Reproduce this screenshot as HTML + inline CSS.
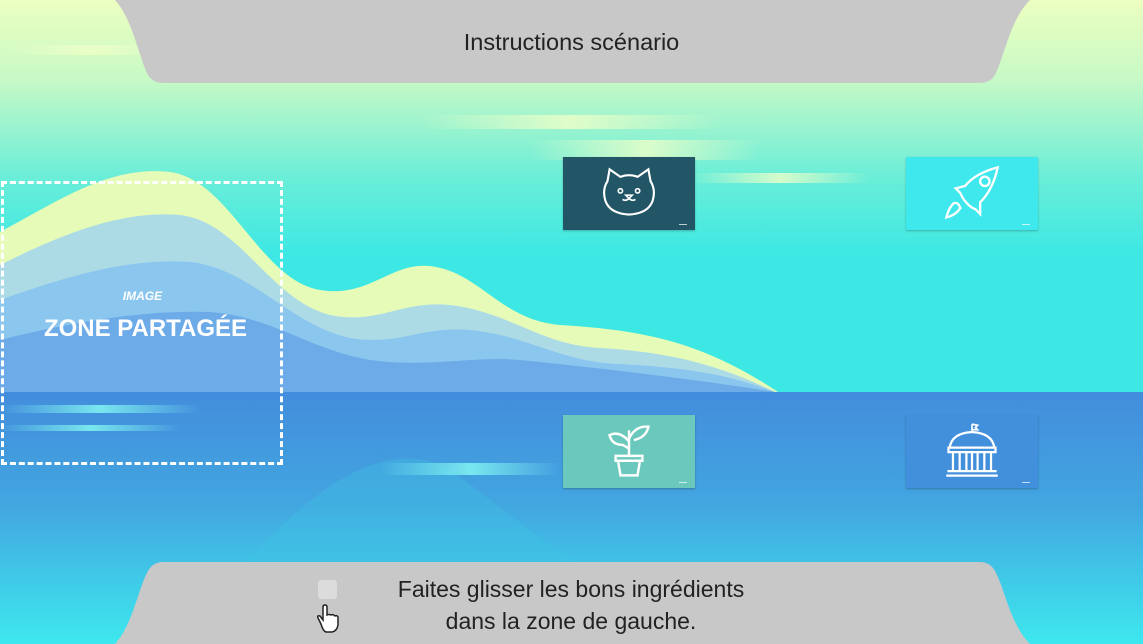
<!DOCTYPE html>
<html><head><meta charset="utf-8"><style>
body{margin:0;width:1143px;height:644px;overflow:hidden;font-family:"Liberation Sans",sans-serif;position:relative;background:#3de8e6}
.abs{position:absolute}
.card{position:absolute;width:132px;height:73px;box-shadow:0 1px 2px rgba(0,0,0,.25)}
.card svg{position:absolute;left:38px;top:8px}
.card .tiny{position:absolute;right:8px;bottom:5px;width:8px;height:1px;background:rgba(255,255,255,.7)}
</style></head><body>
<svg class="abs" width="1143" height="644" style="left:0;top:0">
<defs>
<linearGradient id="sky" x1="0" y1="0" x2="0" y2="1"><stop offset="0" stop-color="#ecffc0"/><stop offset="0.2" stop-color="#c8f9c6"/><stop offset="0.45" stop-color="#6beed8"/><stop offset="0.65" stop-color="#3de8e4"/><stop offset="1" stop-color="#3de8e4"/></linearGradient>
<linearGradient id="sea" x1="0" y1="0" x2="0" y2="1"><stop offset="0" stop-color="#438ddc"/><stop offset="0.45" stop-color="#42a6e0"/><stop offset="1" stop-color="#3de8ee"/></linearGradient>
<linearGradient id="streak" x1="0" x2="1"><stop offset="0" stop-color="#f0ffc8" stop-opacity="0"/><stop offset=".5" stop-color="#f0ffc8" stop-opacity=".8"/><stop offset="1" stop-color="#f0ffc8" stop-opacity="0"/></linearGradient>
<linearGradient id="streak2" x1="0" x2="1"><stop offset="0" stop-color="#7ff0f0" stop-opacity="0"/><stop offset=".5" stop-color="#7ff0f0" stop-opacity=".9"/><stop offset="1" stop-color="#7ff0f0" stop-opacity="0"/></linearGradient>
</defs>
<rect width="1143" height="392" fill="url(#sky)"/>
<rect y="392" width="1143" height="252" fill="url(#sea)"/>
<path d="M230 580 C300 500 380 430 450 470 C520 520 560 560 620 580 Z" fill="#3fc8e6" opacity=".3"/>
<rect x="420" y="115" width="300" height="14" fill="url(#streak)"/>
<rect x="530" y="140" width="230" height="20" fill="url(#streak)"/>
<rect x="690" y="173" width="180" height="10" fill="url(#streak)"/>
<rect x="10" y="45" width="160" height="10" fill="url(#streak)"/>
<rect x="380" y="463" width="180" height="12" fill="url(#streak2)"/>
<rect x="0" y="405" width="200" height="8" fill="url(#streak2)"/>
<rect x="0" y="425" width="180" height="6" fill="url(#streak2)"/>
<path d="M0 232 C60 200 110 165 170 172 C230 180 260 280 320 290 C370 298 390 262 430 266 C480 272 500 320 560 325 C640 330 700 340 778 392 L0 392Z" fill="#e6fbb8"/>
<path d="M0 265 C60 235 120 210 180 215 C240 222 270 300 330 315 C380 325 400 300 450 305 C510 312 540 345 600 348 C670 352 720 365 775 392 L0 392Z" fill="#acdbe6"/>
<path d="M0 300 C70 275 130 258 190 262 C250 268 290 325 350 338 C400 346 420 326 470 330 C530 336 560 362 620 364 C690 368 730 375 775 392 L0 392Z" fill="#8ac6ee"/>
<path d="M0 340 C80 320 150 310 210 312 C270 316 310 350 370 360 C430 368 470 356 520 360 C600 368 700 380 775 392 L0 392Z" fill="#6caae8"/>
</svg>
<svg class="abs" width="1143" height="90" style="left:0;top:0">
<path d="M115 0 L1030 0 C1010 20 1005 55 995 75 Q990 83 980 83 L163 83 Q153 83 148 75 C138 55 133 20 115 0Z" fill="#c8c8c8"/>
</svg>
<div class="abs" style="left:0;width:1143px;top:29px;text-align:center;font-size:23.5px;color:#222">Instructions scénario</div>
<svg class="abs" width="1143" height="84" style="left:0;top:560px">
<path d="M115 84 L1030 84 C1010 64 1005 29 995 11 Q990 2 980 2 L163 2 Q153 2 148 11 C138 29 133 64 115 84Z" fill="#c8c8c8"/>
</svg>
<div class="abs" style="left:340px;width:462px;top:573px;text-align:center;font-size:23px;line-height:32px;color:#222">Faites glisser les bons ingrédients<br>dans la zone de gauche.</div>
<div class="abs" style="left:318px;top:580px;width:19px;height:19px;border-radius:3px;background:#dcdcdc"></div>
<svg class="abs" width="28" height="30" style="left:313px;top:604px"><path d="M8 20 L5 14 Q4 11 7 12 L10 16 L10 3 Q10 1 12 1 Q14 1 14 3 L14 11 Q16 10 18 11 Q20 10 22 12 Q24 11 25 13 L25 21 Q24 27 19 28 L13 28 Q10 27 8 20Z" fill="#fff" stroke="#222" stroke-width="1.5"/></svg>
<div class="abs" style="left:1px;top:181px;width:276px;height:278px;border:3px dashed #fff"></div>
<div class="abs" style="left:0;width:285px;top:289px;text-align:center;font-size:12px;font-style:italic;font-weight:bold;color:#fff">IMAGE</div>
<div class="abs" style="left:0;width:291px;top:315px;text-align:center;font-size:24px;font-weight:bold;color:#fff">ZONE PARTAGÉE</div>
<div class="card" style="left:563px;top:157px;background:#225565">
<svg width="56" height="56" viewBox="4 2 52 46"><path d="M10 14 L12 3 L22 10 Q30 7 38 10 L48 3 L50 14 Q55 22 52 32 Q48 44 30 45 Q12 44 8 32 Q5 22 10 14Z" fill="none" stroke="#fff" stroke-width="2"/><circle cx="22" cy="23" r="2" fill="none" stroke="#fff" stroke-width="1.5"/><circle cx="38" cy="23" r="2" fill="none" stroke="#fff" stroke-width="1.5"/><path d="M27 27 L33 27 L30 30Z M30 30 Q27 33 24 31 M30 30 Q33 33 36 31" fill="none" stroke="#fff" stroke-width="1.5"/></svg><div class="tiny"></div></div>
<div class="card" style="left:906px;top:157px;background:#3ee8ec">
<svg width="56" height="56" viewBox="6 2 48 46"><path d="M52 3 Q48 22 37 33 L37 43 L33 39 Q28 37 25 33 Q22 30 20 25 L16 21 L24 19 Q33 8 52 3Z" fill="none" stroke="#fff" stroke-width="2"/><circle cx="41" cy="15" r="4" fill="none" stroke="#fff" stroke-width="2"/><path d="M14 34 Q18 32 20 38 Q16 44 8 46 Q10 38 14 34Z" fill="none" stroke="#fff" stroke-width="2"/></svg><div class="tiny"></div></div>
<div class="card" style="left:563px;top:415px;background:#6bc8bc">
<svg width="56" height="56" viewBox="8 2 44 46"><path d="M19 29 L41 29 L41 33 L39 33 L37 45 L23 45 L21 33 L19 33Z M21 33 L39 33" fill="none" stroke="#fff" stroke-width="2"/><path d="M30 29 L30 8 M30 17 Q22 8 14 12 Q16 20 25 20 L30 23 M30 15 Q35 4 46 5 Q44 14 34 16" fill="none" stroke="#fff" stroke-width="2"/></svg><div class="tiny"></div></div>
<div class="card" style="left:906px;top:415px;background:#428fdc">
<svg width="56" height="56" viewBox="5 2 50 50"><path d="M30 3 L30 10 M30 3 L35 4 L33 6 L35 8 L30 8" fill="none" stroke="#fff" stroke-width="1.5"/><path d="M10 24 Q12 11 30 10 Q48 11 50 24Z M9 24 L51 24 L51 28 L9 28Z" fill="none" stroke="#fff" stroke-width="2"/><path d="M13 28 V44 M19 28 V44 M25 28 V44 M30 28 V44 M35 28 V44 M41 28 V44 M47 28 V44 M8 45 H52 M7 49 H53" stroke="#fff" stroke-width="2"/></svg><div class="tiny"></div></div>
</body></html>
